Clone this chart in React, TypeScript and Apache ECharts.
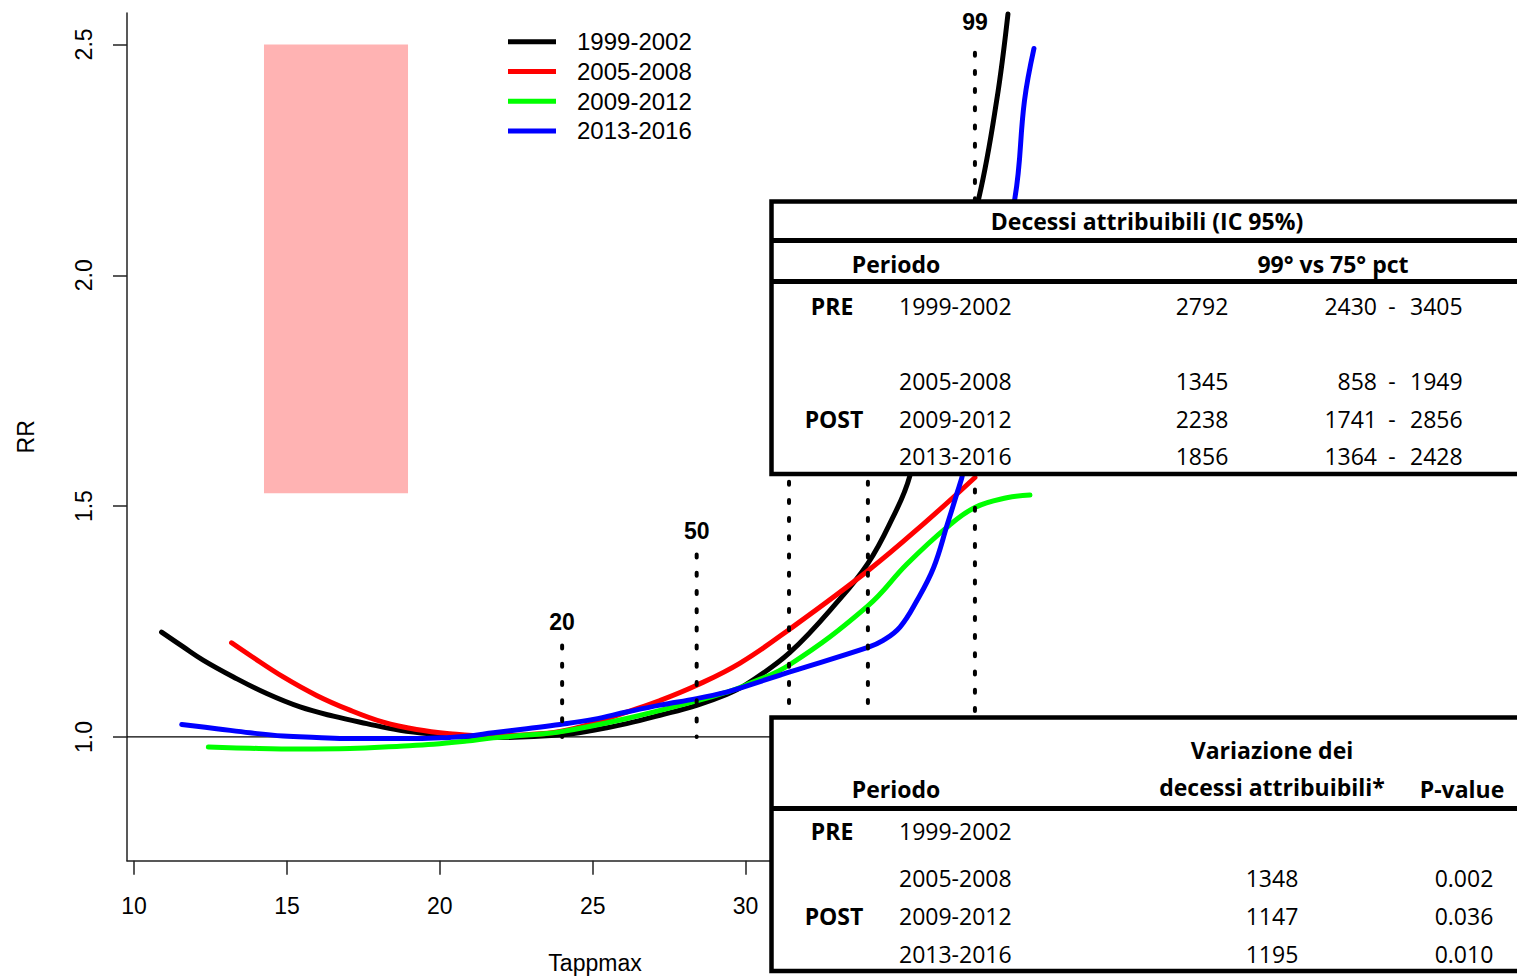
import React, { useEffect, useRef } from "react";
import * as echarts from "echarts";

// ---------------- data ----------------
const periods = ["1999-2002", "2005-2008", "2009-2012", "2013-2016"];
const periodColors = ["#000000", "#FF0000", "#00FF00", "#0000FF"];

const blackX = [10.9, 11.61, 12.27, 13.25, 14.34, 15.43, 16.52, 17.61, 18.7, 19.79, 21.0, 22.0, 23.93, 25.02, 26.11, 27.2, 28.4, 29.38, 30.0, 31.45, 33.1, 34.0, 34.7, 35.37, 37.63, 38.21, 38.58];
const blackY = [1.227, 1.195, 1.166, 1.13, 1.094, 1.065, 1.045, 1.029, 1.0145, 1.006, 1.0, 0.999, 1.004, 1.0145, 1.029, 1.047, 1.0686, 1.092, 1.113, 1.183, 1.3, 1.376, 1.46, 1.565, 2.168, 2.378, 2.566];

const redX = [13.19, 13.79, 14.88, 15.97, 17.06, 18.15, 19.24, 20.33, 21.5, 22.84, 23.93, 25.02, 26.11, 27.2, 28.4, 29.82, 31.45, 34.0, 35.81, 37.5];
const redY = [1.204, 1.177, 1.13, 1.09, 1.058, 1.032, 1.016, 1.007, 1.002, 1.005, 1.012, 1.03, 1.054, 1.079, 1.112, 1.16, 1.234, 1.36, 1.461, 1.562];

const greenX = [12.43, 13.79, 15.43, 17.06, 18.7, 19.79, 20.88, 21.75, 22.84, 23.93, 26.11, 28.4, 29.38, 30.0, 31.45, 34.0, 35.27, 36.58, 37.5, 38.54, 39.3];
const greenY = [0.978, 0.9755, 0.974, 0.975, 0.98, 0.984, 0.991, 0.998, 1.004, 1.011, 1.04, 1.078, 1.097, 1.112, 1.157, 1.284, 1.374, 1.454, 1.497, 1.518, 1.524];

const blueX = [11.56, 12.7, 13.79, 14.88, 15.97, 17.06, 18.15, 19.24, 20.33, 20.88, 21.75, 22.84, 23.93, 25.02, 26.11, 27.2, 28.4, 29.38, 29.82, 31.13, 31.45, 34.0, 34.5, 35.05, 35.6, 36.15, 36.6, 36.9, 37.12, 38.81, 39.12, 39.43];
const blueY = [1.027, 1.018, 1.009, 1.002, 0.999, 0.9965, 0.9965, 0.9965, 0.999, 1.0015, 1.009, 1.018, 1.027, 1.038, 1.054, 1.069, 1.083, 1.097, 1.106, 1.134, 1.141, 1.194, 1.209, 1.238, 1.295, 1.367, 1.461, 1.525, 1.575, 2.168, 2.378, 2.491];

const curvesX = [blackX, redX, greenX, blueX];
const curvesY = [blackY, redY, greenY, blueY];

const xRange = [9.77, 40.38];
const yRange = [0.732, 2.568];
const xTicks = [10, 15, 20, 25, 30];
const yTicks = [1.0, 1.5, 2.0, 2.5];
const refRR = 1.0;

// percentile reference lines (temperature percentiles)
const pctNames = ["20", "50", "", "", "99"];
const pctX = [24.0, 28.4, 31.42, 34.0, 37.5];
const pctTop = [1.198, 1.395, 1.75, 1.75, 2.482];
const pctLabelY = [1.248, 1.447, 0, 0, 2.549];

// shaded area
const shadeX = [14.25, 18.96];
const shadeY = [1.528, 2.5];

// tables
const table1Title = "Decessi attribuibili (IC 95%)";
const table1Header = ["Periodo", "99° vs 75° pct"];
const groups = ["PRE", "POST"];
const attrDeaths = ["2792", "1345", "2238", "1856"];
const ciLow = ["2430", "858", "1741", "1364"];
const ciHigh = ["3405", "1949", "2856", "2428"];

const table2Header = ["Periodo", "Variazione dei", "decessi attribuibili*", "P-value"];
const variation = ["", "1348", "1147", "1195"];
const pValues = ["", "0.002", "0.036", "0.010"];

// ---------------- helpers ----------------
const AX_FONT = "Liberation Sans";
const TB_FONT = "Open Sans";

function txt(text: string, x: number, y: number, align: string, bold = false) {
  return {
    type: "text",
    x,
    y,
    z: 110,
    silent: true,
    style: {
      text,
      fill: "#000",
      fontFamily: TB_FONT,
      fontSize: 23,
      fontWeight: bold ? "bold" : "normal",
      align,
      verticalAlign: "middle",
    },
  };
}

function hline(y: number, x1: number, x2: number, w: number) {
  return {
    type: "line",
    z: 105,
    silent: true,
    shape: { x1, y1: y, x2, y2: y },
    style: { stroke: "#000", lineWidth: w },
  };
}

function buildGraphic() {
  const els: any[] = [];
  // ---- upper table ----
  const t1 = { left: 771.5, top: 201.5, bottom: 474 };
  els.push({
    type: "rect",
    z: 100,
    silent: true,
    shape: { x: t1.left, y: t1.top, width: 820, height: t1.bottom - t1.top },
    style: { fill: "#fff", stroke: "#000", lineWidth: 4.5 },
  });
  els.push(hline(240.5, t1.left, 1600, 5));
  els.push(hline(281.5, t1.left, 1600, 5));
  els.push(txt(table1Title, 1147, 221, "center", true));
  els.push(txt(table1Header[0], 896, 264, "center", true));
  els.push(txt(table1Header[1], 1333, 264, "center", true));
  const rows1 = [306, 381, 419, 456];
  els.push(txt(groups[0], 832, rows1[0], "center", true));
  els.push(txt(groups[1], 834, rows1[2], "center", true));
  periods.forEach((p, i) => {
    els.push(txt(p, 899, rows1[i], "left"));
    els.push(txt(attrDeaths[i], 1202, rows1[i], "center"));
    els.push(txt(ciLow[i], 1377, rows1[i], "right"));
    els.push(txt("-", 1392, rows1[i], "center"));
    els.push(txt(ciHigh[i], 1410, rows1[i], "left"));
  });

  // ---- lower table ----
  const t2 = { left: 771.5, top: 717.5, bottom: 971 };
  els.push({
    type: "rect",
    z: 100,
    silent: true,
    shape: { x: t2.left, y: t2.top, width: 820, height: t2.bottom - t2.top },
    style: { fill: "#fff", stroke: "#000", lineWidth: 4.5 },
  });
  els.push(hline(808.5, t2.left, 1600, 5));
  els.push(txt(table2Header[0], 896, 789, "center", true));
  els.push(txt(table2Header[1], 1272, 750, "center", true));
  els.push(txt(table2Header[2], 1272, 787, "center", true));
  els.push(txt(table2Header[3], 1462, 789, "center", true));
  const rows2 = [831, 878, 916, 954];
  els.push(txt(groups[0], 832, rows2[0], "center", true));
  els.push(txt(groups[1], 834, rows2[2], "center", true));
  periods.forEach((p, i) => {
    els.push(txt(p, 899, rows2[i], "left"));
    if (variation[i]) els.push(txt(variation[i], 1272, rows2[i], "center"));
    if (pValues[i]) els.push(txt(pValues[i], 1464, rows2[i], "center"));
  });
  return els;
}

function buildOption(): any {
  const series: any[] = [];

  // reference line RR = 1 and shaded box
  series.push({
    name: "ref",
    type: "line",
    data: [
      [xRange[0], refRR],
      [xRange[1], refRR],
    ],
    symbol: "none",
    silent: true,
    lineStyle: { color: "#000", width: 1.2 },
    markArea: {
      silent: true,
      itemStyle: { color: "#FFB3B3", opacity: 1 },
      data: [[{ coord: [shadeX[0], shadeY[0]] }, { coord: [shadeX[1], shadeY[1]] }]],
    },
  });

  periods.forEach((p, i) => {
    series.push({
      name: p,
      type: "line",
      data: curvesX[i].map((x, j) => [x, curvesY[i][j]]),
      symbol: "none",
      smooth: 0.4,
      silent: true,
      itemStyle: { color: periodColors[i] },
      lineStyle: { color: periodColors[i], width: 5, cap: "round", join: "round" },
    });
  });

  pctX.forEach((x, i) => {
    series.push({
      name: "pct" + i,
      type: "line",
      data: [
        [x, pctTop[i]],
        [x, refRR],
      ],
      symbol: "none",
      silent: true,
      lineStyle: { color: "#000", width: 4, type: [3, 15.2], cap: "round" },
    });
  });

  series.push({
    name: "pctLabels",
    type: "scatter",
    silent: true,
    symbolSize: 0,
    itemStyle: { color: "#000" },
    data: pctX
      .map((x, i) => ({ name: pctNames[i], value: [x, pctLabelY[i]] }))
      .filter((d) => d.name !== ""),
    label: {
      show: true,
      position: "inside",
      formatter: "{b}",
      fontFamily: AX_FONT,
      fontWeight: "bold",
      fontSize: 23,
      color: "#000",
      opacity: 1,
      textBorderWidth: 0,
    },
  });

  const axisLineStyle = { color: "#222", width: 1.5 };

  return {
    animation: false,
    backgroundColor: "#fff",
    grid: {
      left: 127,
      top: 13,
      width: 936,
      height: 847.7,
      containLabel: false,
      outerBoundsMode: "none",
    },
    legend: {
      data: periods,
      orient: "vertical",
      left: 503,
      top: 22,
      itemWidth: 48,
      itemHeight: 5,
      itemGap: 0,
      icon: "rect",
      selectedMode: false,
      textStyle: {
        fontFamily: AX_FONT,
        fontSize: 24,
        color: "#000",
        lineHeight: 29.7,
        padding: [0, 0, 0, 16],
      },
    },
    xAxis: {
      type: "value",
      min: xRange[0],
      max: xRange[1],
      name: "Tappmax",
      nameLocation: "middle",
      nameGap: 91,
      nameTextStyle: { fontFamily: AX_FONT, fontSize: 23, color: "#000" },
      axisLine: { show: true, onZero: false, lineStyle: axisLineStyle },
      axisTick: { show: true, length: 14, customValues: xTicks, lineStyle: axisLineStyle },
      axisLabel: {
        customValues: xTicks,
        margin: 34,
        fontFamily: AX_FONT,
        fontSize: 23,
        color: "#000",
      },
      splitLine: { show: false },
    },
    yAxis: {
      type: "value",
      min: yRange[0],
      max: yRange[1],
      name: "RR",
      nameLocation: "middle",
      nameGap: 90,
      nameTextStyle: { fontFamily: AX_FONT, fontSize: 23, color: "#000" },
      axisLine: { show: true, onZero: false, lineStyle: axisLineStyle },
      axisTick: { show: true, length: 14, customValues: yTicks, lineStyle: axisLineStyle },
      axisLabel: {
        customValues: yTicks,
        rotate: 90,
        margin: 32,
        fontFamily: AX_FONT,
        fontSize: 23,
        color: "#000",
        formatter: (v: number) => v.toFixed(1),
      },
      splitLine: { show: false },
    },
    series,
    graphic: { elements: buildGraphic() },
  };
}

export default function App() {
  const ref = useRef<HTMLDivElement>(null);
  useEffect(() => {
    const chart = echarts.init(ref.current!, null, { renderer: "svg" });
    chart.setOption(buildOption());
    return () => chart.dispose();
  }, []);
  return (
    <div
      ref={ref}
      style={{ position: "fixed", left: 0, top: 0, width: 1517, height: 978, background: "#fff" }}
    />
  );
}
